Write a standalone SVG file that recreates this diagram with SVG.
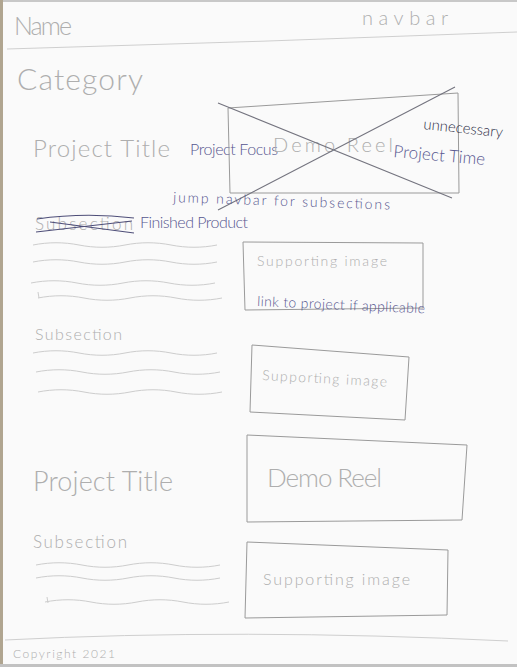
<svg xmlns="http://www.w3.org/2000/svg" xmlns:xlink="http://www.w3.org/1999/xlink" width="517" height="667" viewBox="0 0 517 667">
  <style>
    text{font-family:Lato,"Open Sans","Liberation Sans",sans-serif;font-weight:300}
    .pencil{fill:#aeaeae}
    .ink{fill:#56568f}
    .dark{fill:#2e2e46}
    .edge{fill:none;stroke:#9a9a9a;stroke-width:1;stroke-linejoin:round}
    .rule{fill:none;stroke:#cfcfcf;stroke-width:1}
    .wave{fill:none;stroke:#cdcdcd;stroke-width:1}
    .cross{fill:none;stroke:#74747f;stroke-width:1.1}
    .strike{fill:none;stroke:#4e4e78;stroke-width:1.1}
  </style>
  <defs>
    <!-- squiggle standing in for a paragraph line -->
    <path id="wave" class="wave" d="M0,0 c15,-3 31,-3 46,0 s31,3 46,0 s31,-3 46,0 s31,3 46,0"/>
  </defs>

  <!-- sheet of paper -->
  <rect width="517" height="667" fill="#fafafa"/>
  <rect width="517" height="2" fill="#c8c8c8"/>
  <rect width="3" height="667" fill="#b0a590"/>
  <rect y="664" width="517" height="3" fill="#c2c2c2"/>

  <g id="header">
    <text class="pencil" x="14" y="35" font-size="25" textLength="58">Name</text>
    <text class="pencil" x="362" y="25" font-size="20" textLength="86">navbar</text>
    <path class="rule" d="M7,49 Q260,42 517,32"/>
  </g>

  <g id="category">
    <text class="pencil" x="17" y="90" font-size="30" textLength="126">Category</text>
  </g>

  <g id="project-1-title">
    <text class="pencil" x="33" y="157" font-size="24" textLength="137">Project Title</text>
    <text class="ink" x="190" y="155" font-size="16" textLength="88">Project Focus</text>
  </g>

  <g id="project-1-demo">
    <path class="edge" d="M228,108 L458,93 L459,193 L230,193 Z"/>
    <text class="pencil" x="273" y="152" font-size="20" textLength="120">Demo Reel</text>
    <path class="cross" d="M218,103 L452,198 M455,87 L218,210"/>
    <text class="ink" x="393" y="157" font-size="17" textLength="92" transform="rotate(5 393 157)">Project Time</text>
    <text class="dark" x="423" y="129" font-size="15" textLength="80" transform="rotate(6 423 129)">unnecessary</text>
  </g>

  <g id="jump-navbar">
    <text class="ink" x="173" y="202" font-size="14" textLength="217" transform="rotate(2 173 202)">jump navbar for subsections</text>
  </g>

  <g id="subsection-1">
    <text class="pencil" x="35" y="230" font-size="17" textLength="98">Subsection</text>
    <path class="strike" d="M36,232 L132,221 M50,222 L134,233 M37,219 Q85,212 134,218"/>
    <text class="ink" x="140" y="228" font-size="16" textLength="108">Finished Product</text>
    <use xlink:href="#wave" x="33" y="245"/>
    <use xlink:href="#wave" x="33" y="262"/>
    <use xlink:href="#wave" x="31" y="283"/>
    <use xlink:href="#wave" x="38" y="298"/>
    <path class="wave" d="M38,292 L39,298"/>
  </g>

  <g id="image-1">
    <path class="edge" d="M243,242 L423,243 L423,308 L245,310 Z"/>
    <text class="pencil" x="257" y="266" font-size="14" textLength="130">Supporting image</text>
    <text class="ink" x="257" y="306" font-size="14" textLength="168" transform="rotate(2.5 257 306)">link to project if applicable</text>
  </g>

  <g id="subsection-2">
    <text class="pencil" x="35" y="340" font-size="16" textLength="87">Subsection</text>
    <use xlink:href="#wave" x="33" y="353"/>
    <use xlink:href="#wave" x="36" y="372"/>
    <use xlink:href="#wave" x="38" y="392"/>
  </g>

  <g id="image-2">
    <path class="edge" d="M252,345 L409,357 L405,420 L250,412 Z"/>
    <text class="pencil" x="262" y="380" font-size="14" textLength="125" transform="rotate(3 262 380)">Supporting image</text>
  </g>

  <g id="project-2-title">
    <text class="pencil" x="33" y="491" font-size="27" textLength="140">Project Title</text>
  </g>

  <g id="project-2-demo">
    <path class="edge" d="M247,435 L467,445 L462,520 L247,522 Z"/>
    <text class="pencil" x="267" y="487" font-size="26" textLength="115">Demo Reel</text>
  </g>

  <g id="subsection-3">
    <text class="pencil" x="33" y="548" font-size="17" textLength="94">Subsection</text>
    <use xlink:href="#wave" x="36" y="565"/>
    <use xlink:href="#wave" x="36" y="578"/>
    <use xlink:href="#wave" x="45" y="602"/>
    <path class="wave" d="M47,597 L48,603"/>
  </g>

  <g id="image-3">
    <path class="edge" d="M247,542 L448,550 L447,615 L245,618 Z"/>
    <text class="pencil" x="263" y="585" font-size="16" textLength="147">Supporting image</text>
  </g>

  <g id="footer">
    <path class="rule" d="M5,640 Q240,628 508,641"/>
    <text class="pencil" x="13" y="658" font-size="12" textLength="102">Copyright 2021</text>
  </g>

  <g id="connectors"/>
</svg>
